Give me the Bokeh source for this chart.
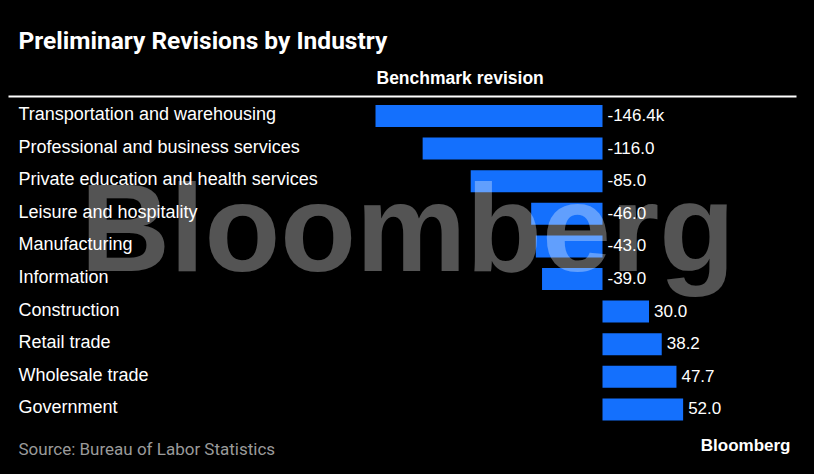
from bokeh.plotting import figure
from bokeh.models import Range1d, Label, ColumnDataSource
from bokeh.core.properties import value
from bokeh.embed import file_html
from bokeh.resources import INLINE

industries = [
    "Transportation and warehousing",
    "Professional and business services",
    "Private education and health services",
    "Leisure and hospitality",
    "Manufacturing",
    "Information",
    "Construction",
    "Retail trade",
    "Wholesale trade",
    "Government",
]
revisions = [-146.4, -116.0, -85.0, -46.0, -43.0, -39.0, 30.0, 38.2, 47.7, 52.0]
value_labels = ["-146.4k", "-116.0", "-85.0", "-46.0", "-43.0", "-39.0", "30.0", "38.2", "47.7", "52.0"]

W, H = 814, 474
ZERO_PX = 602.0
SCALE = 1.5505
ROW0 = 115.5
ROWSTEP = 32.6

x0 = -ZERO_PX / SCALE
x1 = (W - ZERO_PX) / SCALE
y_top = (0 - ROW0) / ROWSTEP
y_bot = (H - ROW0) / ROWSTEP

def dx(px):
    return x0 + px / SCALE

def dy(py):
    return y_top + py / ROWSTEP

p = figure(width=W, height=H, x_range=Range1d(x0, x1), y_range=Range1d(y_bot, y_top),
           x_axis_type=None, y_axis_type=None, toolbar_location=None,
           output_backend="svg", min_border=0)
p.background_fill_color = "#000000"
p.border_fill_color = "#000000"
p.outline_line_color = None
p.grid.visible = False

rows = list(range(len(industries)))
src = ColumnDataSource(dict(
    y=rows,
    left=[min(v, 0) for v in revisions],
    right=[max(v, 0) for v in revisions],
    end=[max(v, 0) for v in revisions],
    name=industries,
    lab=value_labels,
    zero=[0] * len(rows),
))

p.hbar(y="y", left="left", right="right", height=0.675, source=src,
       fill_color="#1470fd", line_color=None)

# zero line segments per row (with a thin black gap next to the bars)
p.segment(x0="zero", x1="zero", y0=[r - 0.46 for r in rows], y1=[r + 0.46 for r in rows],
          line_color="#000000", line_width=4)
p.segment(x0="zero", x1="zero", y0=[r - 0.46 for r in rows], y1=[r + 0.46 for r in rows],
          line_color="#ffffff", line_width=1.5)

p.text(x=dx(18), y="y", text="name", source=src, text_color="#ffffff",
       text_font=value("Liberation Sans"), text_font_size="18px",
       text_baseline="middle", text_align="left", y_offset=-2)

p.text(x="end", y="y", text="lab", source=src, text_color="#ffffff",
       text_font=value("Liberation Sans"), text_font_size="17px",
       text_baseline="middle", text_align="left", x_offset=5, y_offset=-1)

def sy(cy):
    return H - cy

p.add_layout(Label(x=18, y=sy(40), x_units="screen", y_units="screen",
                   text="Preliminary Revisions by Industry", text_color="#ffffff",
                   text_font="Roboto", text_font_style="bold", text_font_size="24.5px",
                   text_baseline="middle"))
p.add_layout(Label(x=376, y=sy(77), x_units="screen", y_units="screen",
                   text="Benchmark revision", text_color="#ffffff",
                   text_font="Liberation Sans", text_font_style="bold", text_font_size="17.5px",
                   text_baseline="middle"))
p.add_layout(Label(x=18, y=sy(448), x_units="screen", y_units="screen",
                   text="Source: Bureau of Labor Statistics", text_color="#9a9a9a",
                   text_font="Roboto", text_font_size="17px", text_baseline="middle"))
p.add_layout(Label(x=790, y=sy(445), x_units="screen", y_units="screen",
                   text="Bloomberg", text_color="#ffffff", text_align="right",
                   text_font="Liberation Sans", text_font_style="bold", text_font_size="17px",
                   text_baseline="middle"))

# header rule
p.segment(x0=[dx(8)], x1=[dx(796)], y0=[dy(96)], y1=[dy(96)], line_color="#ffffff", line_width=2)

# watermark
p.add_layout(Label(x=80, y=sy(227), x_units="screen", y_units="screen",
                   text="Bloomberg", text_color="#ffffff", text_alpha=0.33,
                   text_font="Liberation Sans", text_font_style="bold", text_font_size="124px",
                   text_baseline="alphabetic"))

html = file_html(p, INLINE)
html = html.replace("<head>", "<head><style>html,body{background:#000000;}</style>", 1)
open("out.html", "w").write(html)
